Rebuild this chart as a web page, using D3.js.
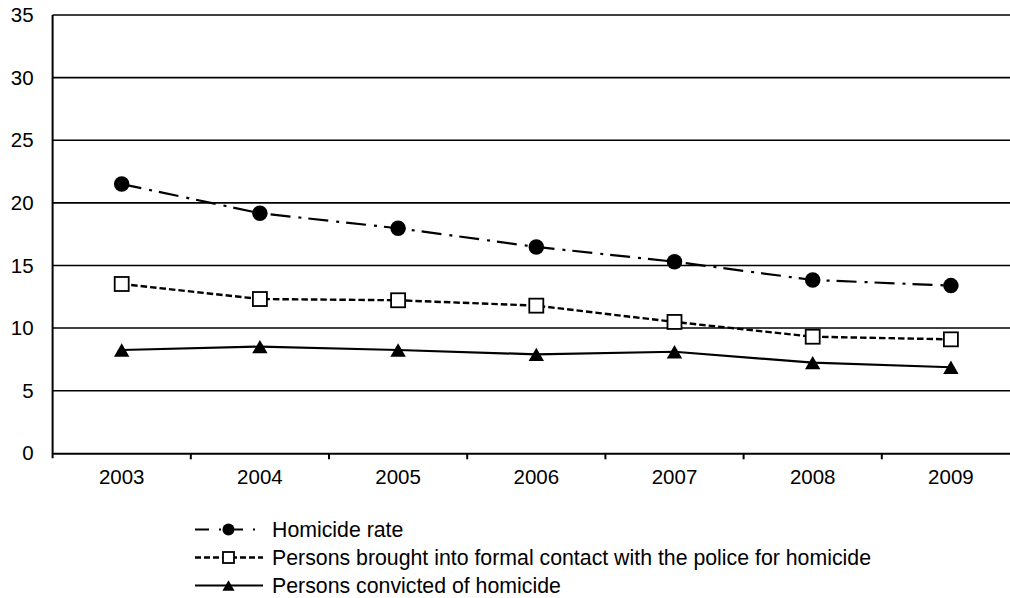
<!DOCTYPE html>
<html>
<head>
<meta charset="utf-8">
<script src="https://cdn.jsdelivr.net/npm/d3@7"></script>
<style>
  html, body { margin: 0; padding: 0; background: #fff; }
  svg { display: block; }
  text { font-family: "Liberation Sans", Arial, sans-serif; fill: #000; }
</style>
</head>
<body>
<svg id="chart" width="1010" height="598"></svg>
<script>
const years = ["2003", "2004", "2005", "2006", "2007", "2008", "2009"];
const homicideRate = [21.5, 19.17, 17.97, 16.48, 15.3, 13.84, 13.39];
const policeContact = [13.52, 12.32, 12.22, 11.79, 10.49, 9.31, 9.1];
const convicted = [8.25, 8.52, 8.25, 7.9, 8.11, 7.24, 6.87];
const yTicks = [0, 5, 10, 15, 20, 25, 30, 35];
const seriesNames = [
  "Homicide rate",
  "Persons brought into formal contact with the police for homicide",
  "Persons convicted of homicide"
];

const svg = d3.select("#chart");
const margin = { left: 52.6, top: 15, right: 1020, bottom: 453.3 };

const x = d3.scaleBand().domain(years).range([margin.left, margin.right]);
const y = d3.scaleLinear().domain([0, 35]).range([margin.bottom, margin.top]);

// gridlines
svg.append("g").selectAll("line").data(yTicks.filter(d => d > 0)).join("line")
  .attr("x1", margin.left).attr("x2", margin.right)
  .attr("y1", d => y(d)).attr("y2", d => y(d))
  .attr("stroke", "#000").attr("stroke-width", 1.6);

// y axis
const yAxis = svg.append("g").attr("transform", `translate(${margin.left},0)`)
  .call(d3.axisLeft(y).tickValues(yTicks).tickSize(0).tickPadding(19));
yAxis.select(".domain").attr("stroke", "#000").attr("stroke-width", 2)
  .attr("d", `M0,${margin.top}V${margin.bottom + 5}`);
yAxis.selectAll("text").attr("font-size", 20.5).attr("font-family", "Liberation Sans, Arial, sans-serif");

// x axis
const xAxis = svg.append("g").attr("transform", `translate(0,${margin.bottom})`)
  .call(d3.axisBottom(x).tickSize(0).tickPadding(16));
xAxis.select(".domain").attr("stroke", "#000").attr("stroke-width", 2);
xAxis.selectAll("text").attr("font-size", 20.5).attr("font-family", "Liberation Sans, Arial, sans-serif");
// category boundary ticks
svg.append("g").selectAll("line").data(years.slice(1)).join("line")
  .attr("x1", d => x(d)).attr("x2", d => x(d))
  .attr("y1", margin.bottom).attr("y2", margin.bottom + 6)
  .attr("stroke", "#000").attr("stroke-width", 2);

const cx = d => x(d) + x.bandwidth() / 2;

const triPath = (s) => `M0,${-s*0.48}L${s*0.55},${s*0.48}L${-s*0.55},${s*0.48}Z`;

const series = [
  { name: seriesNames[0], values: homicideRate, dash: "20,8,3,7", width: 2.2, marker: "circle" },
  { name: seriesNames[1], values: policeContact, dash: "6.5,3", width: 2.4, marker: "square" },
  { name: seriesNames[2], values: convicted, dash: null, width: 2.2, marker: "triangle" }
];

function drawMarker(g, type, size) {
  if (type === "circle") {
    g.append("circle").attr("r", size / 2).attr("fill", "#000");
  } else if (type === "square") {
    g.append("rect").attr("x", -size / 2).attr("y", -size / 2)
      .attr("width", size).attr("height", size)
      .attr("fill", "#fff").attr("stroke", "#000").attr("stroke-width", 1.8);
  } else {
    g.append("path").attr("d", triPath(size)).attr("fill", "#000");
  }
}

const line = d3.line().x((d, i) => cx(years[i])).y(d => y(d));

series.forEach(s => {
  svg.append("path").datum(s.values)
    .attr("d", line).attr("fill", "none")
    .attr("stroke", "#000").attr("stroke-width", s.width)
    .attr("stroke-dasharray", s.dash);
  s.values.forEach((v, i) => {
    const g = svg.append("g").attr("transform", `translate(${cx(years[i])},${y(v)})`);
    drawMarker(g, s.marker, s.marker === "circle" ? 15.5 : 14);
  });
});

// legend
const legY0 = 529.5, legStep = 28;
const legDash = ["14,10,2,8", "6,3", null];
series.forEach((s, i) => {
  const ly = legY0 + i * legStep;
  svg.append("line").attr("x1", 195).attr("x2", 263).attr("y1", ly).attr("y2", ly)
    .attr("stroke", "#000").attr("stroke-width", s.width)
    .attr("stroke-dasharray", legDash[i]);
  const g = svg.append("g").attr("transform", `translate(228.5,${ly})`);
  drawMarker(g, s.marker, s.marker === "circle" ? 12 : 11);
  svg.append("text").attr("x", 272).attr("y", ly).attr("dy", "0.35em")
    .attr("font-size", 21.3).text(s.name);
});
</script>
</body>
</html>
